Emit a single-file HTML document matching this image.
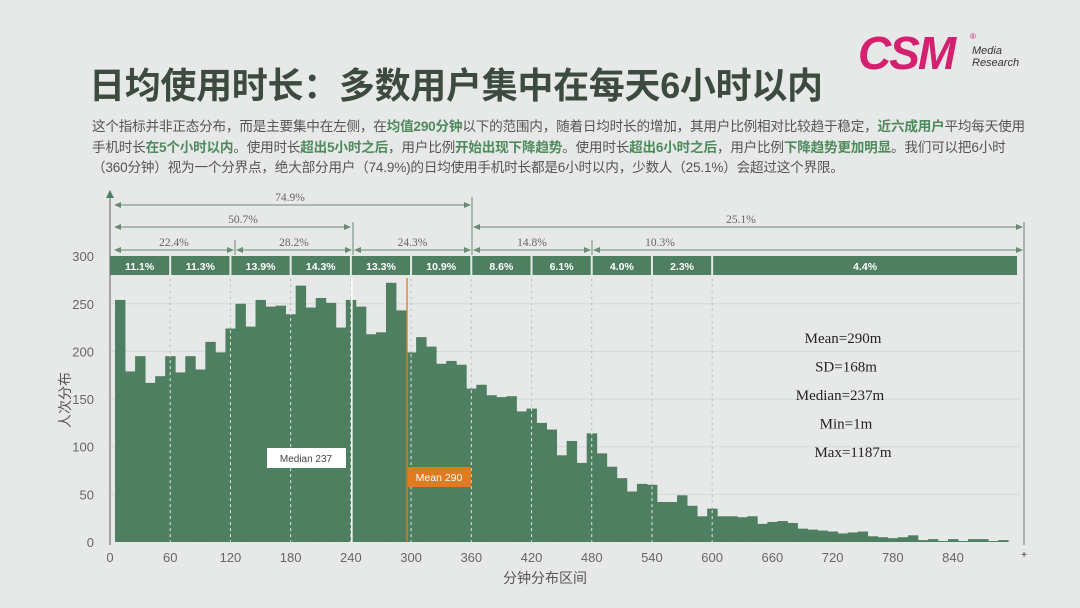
<!DOCTYPE html>
<html><head><meta charset="utf-8">
<style>
html,body{margin:0;padding:0;background:#e7e9e9;}
body{width:1080px;height:608px;overflow:hidden;position:relative;font-family:"Liberation Sans","Noto Sans CJK SC",sans-serif;}
#title{position:absolute;left:89px;top:64px;font-size:36px;line-height:44px;font-weight:bold;color:#3c4a3f;letter-spacing:-0.3px;white-space:nowrap;}
#desc{position:absolute;left:92px;top:117px;width:945px;font-size:13.6px;line-height:20.5px;color:#555;letter-spacing:-0.2px;}
#desc b{color:#4e8a5c;}
#logo{position:absolute;left:858px;top:26px;}
</style></head><body>
<div id="logo">
<span style="font-family:'Liberation Sans',sans-serif;font-weight:bold;font-style:italic;font-size:46px;color:#d4206f;letter-spacing:-2px;">CSM</span><span style="position:absolute;left:112px;top:6px;font-size:8px;color:#d4206f;">®</span><span style="position:absolute;left:114px;top:19px;font-size:11px;line-height:12px;font-style:italic;color:#333;">Media<br>Research</span>
</div>
<div id="title">日均使用时长：多数用户集中在每天6小时以内</div>
<div id="desc">这个指标并非正态分布，而是主要集中在左侧，在<b>均值290分钟</b>以下的范围内，随着日均时长的增加，其用户比例相对比较趋于稳定，<b>近六成用户</b>平均每天使用手机时长<b>在5个小时以内</b>。使用时长<b>超出5小时之后</b>，用户比例<b>开始出现下降趋势</b>。使用时长<b>超出6小时之后</b>，用户比例<b>下降趋势更加明显</b>。我们可以把6小时（360分钟）视为一个分界点，绝大部分用户（74.9%)的日均使用手机时长都是6小时以内，少数人（25.1%）会超过这个界限。</div>
<svg id="chart" width="1080" height="608" style="position:absolute;left:0;top:0"></svg>
<script>
const counts=[254,179,195,167,174,195,178,195,181,210,199,224,250,226,254,247,248,239,269,246,256,251,225,254,
247,218,220,272,243,199,215,205,187,190,186,161,165,154,152,153,137,140,125,118,91,106,83,114,93,79,67,
53,61,60,42,42,49,38,27,35,27,27,26,27,19,21,22,20,14,13,12,11,9,10,11,6,5,4,5,7,2,3,1,3,1,3,3,1,2];
const binWidth=10;
const yTicks=[0,50,100,150,200,250,300];
const xTicks=[0,60,120,180,240,300,360,420,480,540,600,660,720,780,840];
const segLabels=["11.1%","11.3%","13.9%","14.3%","13.3%","10.9%","8.6%","6.1%","4.0%","2.3%","4.4%"];
const segBounds=[0,60,120,180,240,300,360,420,480,540,600,903];
const stats=["Mean=290m","SD=168m","Median=237m","Min=1m","Max=1187m"];
const meanVal=290, medianVal=237;

const svg=document.getElementById('chart');
const NS='http://www.w3.org/2000/svg';
const X=v=>110+v*1.0036;
const Y=v=>542-v*0.953;
function mk(t,a,p){const e=document.createElementNS(NS,t);for(const k in a)e.setAttribute(k,a[k]);(p||svg).appendChild(e);return e;}
yTicks.forEach(t=>{if(t>0&&t<300){const g=mk('line',{x1:110,x2:1020,y1:Y(t),y2:Y(t),stroke:'#d6d9d9','stroke-width':1});

}
const l=mk('text',{x:94,y:Y(t)+5,'text-anchor':'end','font-size':13,fill:'#666','font-family':'Liberation Sans'});l.textContent=t;

});
xTicks.forEach(t=>{if(t>0&&t<=600){const d=mk('line',{x1:X(t),x2:X(t),y1:278,y2:542,stroke:'#bbb','stroke-dasharray':'3,3'});

}});
counts.forEach((c,i)=>{const x0=X(i*binWidth+5),x1=X(i*binWidth+15);
const r=mk('rect',{x:x0,y:Y(c),width:x1-x0+0.4,height:542-Y(c),fill:'#4e7f60'});

});
xTicks.forEach(t=>{if(t>0&&t<=600){const d=mk('line',{x1:X(t),x2:X(t),y1:Y(300)+20,y2:542,stroke:'#dfe8e2','stroke-dasharray':'3,3','stroke-width':1});

}});
const ml=mk('line',{x1:X(medianVal)+4,x2:X(medianVal)+4,y1:278,y2:542,stroke:'#fff','stroke-width':1.5});


const mn=mk('line',{x1:X(meanVal)+6,x2:X(meanVal)+6,y1:278,y2:542,stroke:'#e07b1f','stroke-width':1.3});


const ya=mk('line',{x1:110,x2:110,y1:192,y2:545,stroke:'#777','stroke-width':1.2});


mk('path',{d:'M106,198 L110,190 L114,198 Z',fill:'#4e7f60'});
const rf=mk('line',{x1:1024,x2:1024,y1:222,y2:545,stroke:'#777','stroke-width':1});


const plus=mk('text',{x:1024,y:558,'text-anchor':'middle','font-size':10,fill:'#333'});plus.textContent='+';
xTicks.forEach(t=>{const l=mk('text',{x:X(t),y:562,'text-anchor':'middle','font-size':13,fill:'#666','font-family':'Liberation Sans'});l.textContent=t;

});
const xt=mk('text',{x:545,y:583,'text-anchor':'middle','font-size':14,fill:'#555','font-family':'Liberation Sans, Noto Sans CJK SC, sans-serif'});xt.textContent='分钟分布区间';


const yt=mk('text',{x:0,y:0,'text-anchor':'middle','font-size':14,fill:'#555',transform:'translate(70,400) rotate(-90)','font-family':'Liberation Sans, Noto Sans CJK SC, sans-serif'});yt.textContent='人次分布';


for(let i=0;i<segLabels.length;i++){const a=X(segBounds[i])+(i==0?0:1),b=(i==segLabels.length-1?1017:X(segBounds[i+1])-1);
const r=mk('rect',{x:a,y:256,width:b-a,height:19,fill:'#4e7f60'});


const t=mk('text',{x:(a+b)/2,y:270,'text-anchor':'middle','font-size':10.5,'font-weight':'bold',fill:'#fff'});t.textContent=segLabels[i];

}
function arrow(x1,x2,y,label,lx){
 mk('line',{x1:x1+2,x2:x2-2,y1:y,y2:y,stroke:'#6a8a74','stroke-width':1});
 mk('path',{d:`M${x1+1},${y} l7,-3 v6 Z`,fill:'#6a8a74'});
 mk('path',{d:`M${x2-1},${y} l-7,-3 v6 Z`,fill:'#6a8a74'});
 const w=label.length*7+14;
 mk('rect',{x:(lx||(x1+x2)/2)-w/2,y:y-8,width:w,height:7,fill:'#e7e9e9'});
 const t=mk('text',{x:lx||(x1+x2)/2,y:y-4,'text-anchor':'middle','font-size':11.5,fill:'#666','font-family':'Liberation Serif'});t.textContent=label;
 
 
}
[[235,240,255],[353,222,255],[472,197,255],[592,240,255]].forEach(v=>mk('line',{x1:v[0],x2:v[0],y1:v[1],y2:v[2],stroke:'#6a8a74'}));
arrow(113,235,250,'22.4%');arrow(235,353,250,'28.2%');arrow(353,472,250,'24.3%');arrow(472,592,250,'14.8%');arrow(592,1024,250,'10.3%',660);
mk('rect',{x:135,y:233,width:180,height:4,fill:'#e7e9e9'});
arrow(113,352,227,'50.7%',243);arrow(472,1024,227,'25.1%',741);
arrow(113,472,205,'74.9%',290);
const mb=mk('rect',{x:267,y:448,width:79,height:20,fill:'#fff'});


const mbt=mk('text',{x:306,y:462,'text-anchor':'middle','font-size':10,fill:'#444'});mbt.textContent='Median 237';
const ob=mk('rect',{x:408,y:467,width:63,height:20,fill:'#e07b1f'});


const obt=mk('text',{x:439,y:481,'text-anchor':'middle','font-size':10.5,fill:'#fff'});obt.textContent='Mean 290';
const sx=[843,846,840,846,853];
stats.forEach((s,i)=>{const t=mk('text',{x:sx[i],y:343+i*28.5,'text-anchor':'middle','font-size':15,fill:'#222','font-family':'Liberation Serif'});t.textContent=s;

});
</script>
</body></html>
